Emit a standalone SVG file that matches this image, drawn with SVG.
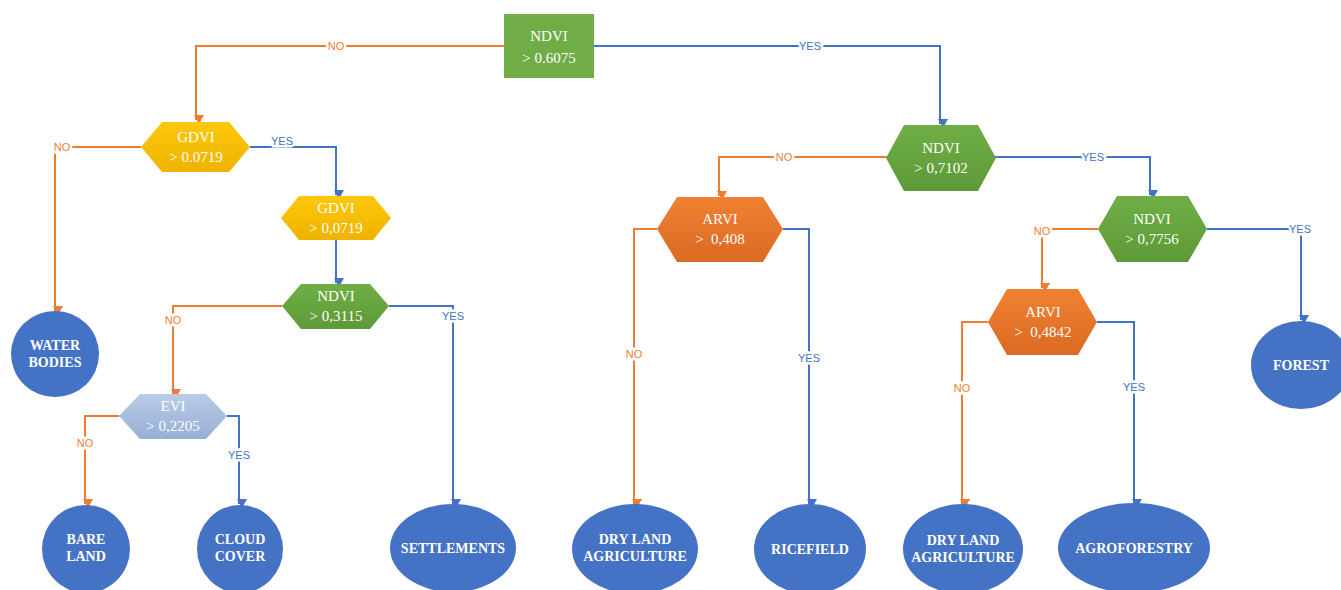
<svg xmlns="http://www.w3.org/2000/svg" width="1341" height="590" viewBox="0 0 1341 590">
<defs>
<marker id="ao" markerWidth="10" markerHeight="10" refX="5" refY="8" orient="auto" markerUnits="userSpaceOnUse" viewBox="0 0 10 10"><path d="M0,0 L10,0 L5,9 Z" transform="rotate(-90 5 5)" fill="#ED7D31"/></marker>
<marker id="ab" markerWidth="10" markerHeight="10" refX="5" refY="8" orient="auto" markerUnits="userSpaceOnUse" viewBox="0 0 10 10"><path d="M0,0 L10,0 L5,9 Z" transform="rotate(-90 5 5)" fill="#4472C4"/></marker>
<linearGradient id="gGold" x1="0" y1="0" x2="0" y2="1"><stop offset="0" stop-color="#FFC80A"/><stop offset="1" stop-color="#EDB300"/></linearGradient>
<linearGradient id="gGreen" x1="0" y1="0" x2="0" y2="1"><stop offset="0" stop-color="#6FAE45"/><stop offset="1" stop-color="#5E9A38"/></linearGradient>
<linearGradient id="gOrange" x1="0" y1="0" x2="0" y2="1"><stop offset="0" stop-color="#F08132"/><stop offset="1" stop-color="#DB6A22"/></linearGradient>
<linearGradient id="gEvi" x1="0" y1="0" x2="0" y2="1"><stop offset="0" stop-color="#B9CBE6"/><stop offset="1" stop-color="#97AFD6"/></linearGradient>
</defs>
<style>
.lo{fill:none;stroke:#ED7D31;stroke-width:2;marker-end:url(#ao)}
.lb{fill:none;stroke:#4472C4;stroke-width:2;marker-end:url(#ab)}
.tlo{font-family:"Liberation Sans","DejaVu Sans",sans-serif;font-size:11px;fill:#ED7D31;text-anchor:middle;stroke:#fff;stroke-width:5px;paint-order:stroke}
.tlb{font-family:"Liberation Sans","DejaVu Sans",sans-serif;font-size:11px;fill:#4472C4;text-anchor:middle;stroke:#fff;stroke-width:5px;paint-order:stroke}
.nt{font-family:"Liberation Serif","Times New Roman",serif;font-size:15px;fill:#fff;text-anchor:middle}
.lt{font-family:"Liberation Serif","Times New Roman",serif;font-size:14px;font-weight:bold;fill:#fff;text-anchor:middle}
.leaf{fill:#4472C4}
</style>
<rect width="1341" height="590" fill="#fff"/>
<g id="connectors">
<path class="lo" d="M504,46 H196 V120"/>
<path class="lb" d="M594,46 H940 V124"/>
<path class="lo" d="M141,147 H55 V311"/>
<path class="lb" d="M250,147 H336 V195"/>
<path class="lb" d="M336,240 V283"/>
<path class="lo" d="M282,306 H173 V394"/>
<path class="lb" d="M389,306 H453 V504"/>
<path class="lo" d="M119,416 H85 V504"/>
<path class="lb" d="M227,416 H239 V504"/>
<path class="lo" d="M887,157 H719 V196"/>
<path class="lb" d="M995,157 H1150 V195"/>
<path class="lo" d="M657,229 H634 V504"/>
<path class="lb" d="M783,229 H809 V504"/>
<path class="lo" d="M1098,229 H1042 V288"/>
<path class="lb" d="M1207,229 H1301 V320"/>
<path class="lo" d="M988,322 H962 V504"/>
<path class="lb" d="M1097,322 H1134 V504"/>
<text class="tlo" x="336" y="50">NO</text>
<text class="tlb" x="810" y="50">YES</text>
<text class="tlo" x="62" y="151">NO</text>
<text class="tlb" x="282" y="145">YES</text>
<text class="tlo" x="173" y="324">NO</text>
<text class="tlb" x="453" y="320">YES</text>
<text class="tlo" x="85" y="447">NO</text>
<text class="tlb" x="239" y="459">YES</text>
<text class="tlo" x="784" y="161">NO</text>
<text class="tlb" x="1093" y="161">YES</text>
<text class="tlo" x="634" y="358">NO</text>
<text class="tlb" x="809" y="362">YES</text>
<text class="tlo" x="1042" y="235">NO</text>
<text class="tlb" x="1300" y="233">YES</text>
<text class="tlo" x="962" y="392">NO</text>
<text class="tlb" x="1134" y="391">YES</text>
</g>
<g id="n-root"><rect x="504" y="14" width="90" height="64" fill="#70AD47"/><text class="nt" x="549" y="41">NDVI</text><text class="nt" x="549" y="63">&gt; 0.6075</text></g>
<g id="n-gdvi1"><polygon points="141,147 162,122 229,122 250,147 229,172 162,172" fill="url(#gGold)"/><text class="nt" x="196" y="142">GDVI</text><text class="nt" x="196" y="162">&gt; 0.0719</text></g>
<g id="n-gdvi2"><polygon points="281,218 299,196 373,196 391,218 373,240 299,240" fill="url(#gGold)"/><text class="nt" x="336" y="213">GDVI</text><text class="nt" x="336" y="233">&gt; 0,0719</text></g>
<g id="n-ndvi3"><polygon points="282,306 301,284 370,284 389,306 370,329 301,329" fill="url(#gGreen)"/><text class="nt" x="336" y="301">NDVI</text><text class="nt" x="336" y="321">&gt; 0,3115</text></g>
<g id="n-evi"><polygon points="119,416 140,394 206,394 227,416 206,439 140,439" fill="url(#gEvi)"/><text class="nt" x="173" y="411">EVI</text><text class="nt" x="173" y="431">&gt; 0,2205</text></g>
<g id="n-ndvi2"><polygon points="886,158 904,125 978,125 996,158 978,191 904,191" fill="url(#gGreen)"/><text class="nt" x="941" y="153">NDVI</text><text class="nt" x="941" y="173">&gt; 0,7102</text></g>
<g id="n-arvi1"><polygon points="657,229 677,197 763,197 783,229 763,262 677,262" fill="url(#gOrange)"/><text class="nt" x="720" y="224">ARVI</text><text class="nt" x="720" y="244">&gt;&#160; 0,408</text></g>
<g id="n-ndvi4"><polygon points="1098,229 1117,196 1188,196 1207,229 1188,262 1117,262" fill="url(#gGreen)"/><text class="nt" x="1152" y="224">NDVI</text><text class="nt" x="1152" y="244">&gt; 0,7756</text></g>
<g id="n-arvi2"><polygon points="988,322 1007,289 1078,289 1097,322 1078,355 1007,355" fill="url(#gOrange)"/><text class="nt" x="1043" y="317">ARVI</text><text class="nt" x="1043" y="337">&gt;&#160; 0,4842</text></g>
<g id="n-water"><ellipse class="leaf" cx="55" cy="354" rx="44" ry="43"/><text class="lt" x="55" y="350">WATER</text><text class="lt" x="55" y="367">BODIES</text></g>
<g id="n-bare"><ellipse class="leaf" cx="86" cy="549" rx="44" ry="44"/><text class="lt" x="86" y="544">BARE</text><text class="lt" x="86" y="561">LAND</text></g>
<g id="n-cloud"><ellipse class="leaf" cx="240" cy="549" rx="43" ry="44"/><text class="lt" x="240" y="544">CLOUD</text><text class="lt" x="240" y="561">COVER</text></g>
<g id="n-settle"><ellipse class="leaf" cx="453" cy="548" rx="63" ry="44"/><text class="lt" x="453" y="553">SETTLEMENTS</text></g>
<g id="n-dry1"><ellipse class="leaf" cx="635" cy="549" rx="63" ry="45"/><text class="lt" x="635" y="544">DRY LAND</text><text class="lt" x="635" y="561">AGRICULTURE</text></g>
<g id="n-rice"><ellipse class="leaf" cx="810" cy="549" rx="56" ry="45"/><text class="lt" x="810" y="554">RICEFIELD</text></g>
<g id="n-dry2"><ellipse class="leaf" cx="963" cy="549" rx="60" ry="45"/><text class="lt" x="963" y="545">DRY LAND</text><text class="lt" x="963" y="562">AGRICULTURE</text></g>
<g id="n-agro"><ellipse class="leaf" cx="1134" cy="548" rx="76" ry="45"/><text class="lt" x="1134" y="553">AGROFORESTRY</text></g>
<g id="n-forest"><ellipse class="leaf" cx="1301" cy="365" rx="50" ry="44"/><text class="lt" x="1301" y="370">FOREST</text></g>
</svg>
